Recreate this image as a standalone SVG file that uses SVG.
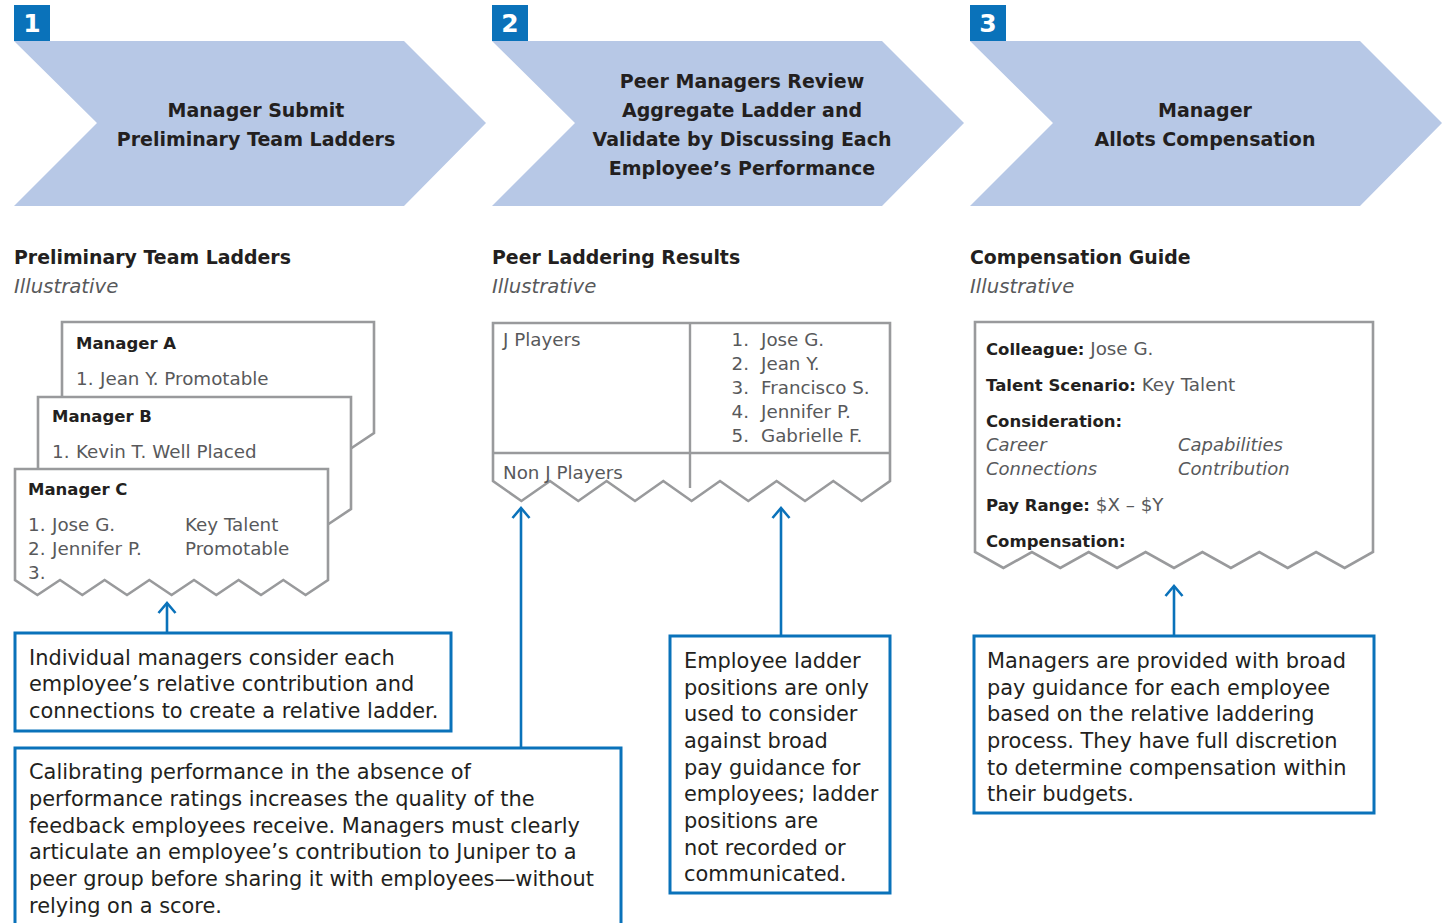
<svg xmlns="http://www.w3.org/2000/svg" width="1447" height="923" viewBox="0 0 1447 923">
<style>
.chev{fill:#B7C8E6}
.badge{fill:#0A72BA}
.bnum{font-family:"DejaVu Sans",sans-serif;font-weight:bold;font-size:25px;fill:#fff;text-anchor:middle}
.ct{font-family:"DejaVu Sans",sans-serif;font-weight:bold;font-size:19px;fill:#231F20;text-anchor:middle}
.h{font-family:"DejaVu Sans",sans-serif;font-weight:bold;font-size:18.9px;fill:#231F20}
.il{font-family:"DejaVu Sans",sans-serif;font-style:italic;font-size:19.7px;fill:#58595B}
.card{fill:#fff;stroke:#999A9C;stroke-width:2.6;stroke-linejoin:miter}
.line{stroke:#999A9C;stroke-width:2.4;fill:none}
.cb{font-family:"DejaVu Sans",sans-serif;font-weight:bold;font-size:16.5px;fill:#231F20}
.cr{font-family:"DejaVu Sans",sans-serif;font-size:18.3px;fill:#58595B}
.ci{font-family:"DejaVu Sans",sans-serif;font-style:italic;font-size:18px;fill:#58595B}
.box{fill:#fff;stroke:#0A72BA;stroke-width:3}
.bt{font-family:"DejaVu Sans",sans-serif;font-size:20.9px;fill:#231F20}
.conn{stroke:#0A72BA;stroke-width:2.6;fill:none}
</style>
<defs>
<marker id="arr" markerUnits="userSpaceOnUse" markerWidth="24" markerHeight="24" viewBox="0 0 24 24" refX="12" refY="12" orient="auto">
<path d="M2,3.5 L12,12 L2,20.5" fill="none" stroke="#0A72BA" stroke-width="2.6"/>
</marker>
</defs>
<rect width="1447" height="923" fill="#fff"/>

<g id="step1">
<polygon class="chev" points="14,41 404,41 486,123 404,206 14,206 97,123"/>
<rect class="badge" x="14" y="5" width="36" height="36"/>
<text class="bnum" x="32" y="32">1</text>
<text class="ct" x="256" y="117">Manager Submit</text>
<text class="ct" x="256" y="146">Preliminary Team Ladders</text>
</g>
<g id="step2">
<polygon class="chev" points="492,41 882,41 964,123 882,206 492,206 575,123"/>
<rect class="badge" x="492" y="5" width="36" height="36"/>
<text class="bnum" x="510" y="32">2</text>
<text class="ct" x="742" y="88">Peer Managers Review</text>
<text class="ct" x="742" y="117">Aggregate Ladder and</text>
<text class="ct" x="742" y="146">Validate by Discussing Each</text>
<text class="ct" x="742" y="175">Employee’s Performance</text>
</g>
<g id="step3">
<polygon class="chev" points="970,41 1360,41 1442,123 1360,206 970,206 1053,123"/>
<rect class="badge" x="970" y="5" width="36" height="36"/>
<text class="bnum" x="988" y="32">3</text>
<text class="ct" x="1205" y="117">Manager</text>
<text class="ct" x="1205" y="146">Allots Compensation</text>
</g>

<g id="heading1">
<text class="h" x="14" y="264">Preliminary Team Ladders</text>
<text class="il" x="14" y="293">Illustrative</text>
</g>
<g id="heading2">
<text class="h" x="492" y="264">Peer Laddering Results</text>
<text class="il" x="492" y="293">Illustrative</text>
</g>
<g id="heading3">
<text class="h" x="970" y="264">Compensation Guide</text>
<text class="il" x="970" y="293">Illustrative</text>
</g>

<g id="managerA">
<path class="card" d="M62,322 H374 V433 L351.6,448 L329.3,433 L307,448 L284.6,433 L262.3,448 L240,433 L217.6,448 L195.3,433 L173,448 L150.6,433 L128.3,448 L106,433 L84.3,448 L62,433 Z"/>
<text class="cb" x="76" y="349">Manager A</text>
<text class="cr" x="76" y="385">1.</text>
<text class="cr" x="100" y="385">Jean Y. Promotable</text>
</g>
<g id="managerB">
<path class="card" d="M38,397 H351 V509 L328.6,524 L306.3,509 L284,524 L261.6,509 L239.3,524 L217,509 L194.6,524 L172.3,509 L150,524 L127.6,509 L105.3,524 L83,509 L60.4,524 L38,509 Z"/>
<text class="cb" x="52" y="422">Manager B</text>
<text class="cr" x="52" y="458">1.</text>
<text class="cr" x="76" y="458">Kevin T. Well Placed</text>
</g>
<g id="managerC">
<path class="card" d="M15,469 H328 V580 L305.6,595 L283.3,580 L261,595 L238.6,580 L216.3,595 L194,580 L171.6,595 L149.3,580 L127,595 L104.6,580 L82.3,595 L60,580 L37.4,595 L15,580 Z"/>
<text class="cb" x="28" y="495">Manager C</text>
<text class="cr" x="28" y="531">1.</text>
<text class="cr" x="52" y="531">Jose G.</text>
<text class="cr" x="185" y="531">Key Talent</text>
<text class="cr" x="28" y="555">2.</text>
<text class="cr" x="52" y="555">Jennifer P.</text>
<text class="cr" x="185" y="555">Promotable</text>
<text class="cr" x="28" y="579">3.</text>
</g>

<g id="peerTable">
<path class="card" d="M493,323 H890 V481 L861.6,501 L833.3,481 L805,501 L776.6,481 L748.3,501 L720,481 L691.6,501 L663.3,481 L635,501 L606.6,481 L578.3,501 L550,481 L521.4,501 L493,481 Z"/>
<line class="line" x1="690" y1="323" x2="690" y2="488"/>
<line class="line" x1="493" y1="453" x2="890" y2="453"/>
<text class="cr" x="503" y="346">J Players</text>
<text class="cr" x="503" y="479">Non J Players</text>
<text class="cr" x="749" y="346" text-anchor="end">1.</text>
<text class="cr" x="761" y="346">Jose G.</text>
<text class="cr" x="749" y="370" text-anchor="end">2.</text>
<text class="cr" x="761" y="370">Jean Y.</text>
<text class="cr" x="749" y="394" text-anchor="end">3.</text>
<text class="cr" x="761" y="394">Francisco S.</text>
<text class="cr" x="749" y="418" text-anchor="end">4.</text>
<text class="cr" x="761" y="418">Jennifer P.</text>
<text class="cr" x="749" y="442" text-anchor="end">5.</text>
<text class="cr" x="761" y="442">Gabrielle F.</text>
</g>

<g id="compGuide">
<path class="card" d="M975,322 H1373 V552 L1344.6,568 L1316.1,552 L1287.7,568 L1259.3,552 L1230.9,568 L1202.4,552 L1174,568 L1145.6,552 L1117.1,568 L1088.7,552 L1060.3,568 L1031.9,552 L1003.4,568 L975,552 Z"/>
<text x="986" y="355"><tspan class="cb">Colleague:</tspan><tspan class="cr"> Jose G.</tspan></text>
<text x="986" y="391"><tspan class="cb">Talent Scenario:</tspan><tspan class="cr"> Key Talent</tspan></text>
<text class="cb" x="986" y="427">Consideration:</text>
<text class="ci" x="986" y="451">Career</text>
<text class="ci" x="1178" y="451">Capabilities</text>
<text class="ci" x="986" y="475">Connections</text>
<text class="ci" x="1178" y="475">Contribution</text>
<text x="986" y="511"><tspan class="cb">Pay Range:</tspan><tspan class="cr"> $X – $Y</tspan></text>
<text class="cb" x="986" y="547">Compensation:</text>
</g>

<g id="connectors">
<line class="conn" x1="167" y1="633" x2="167" y2="603" marker-end="url(#arr)"/>
<line class="conn" x1="521" y1="748" x2="521" y2="508" marker-end="url(#arr)"/>
<line class="conn" x1="781" y1="636" x2="781" y2="508" marker-end="url(#arr)"/>
<line class="conn" x1="1174" y1="636" x2="1174" y2="586" marker-end="url(#arr)"/>
</g>

<g id="note1">
<rect class="box" x="15" y="633" width="436" height="98"/>
<text class="bt" x="29" y="665">Individual managers consider each</text>
<text class="bt" x="29" y="691">employee’s relative contribution and</text>
<text class="bt" x="29" y="718">connections to create a relative ladder.</text>
</g>
<g id="note2">
<rect class="box" x="15" y="748" width="606" height="190"/>
<text class="bt" x="29" y="779">Calibrating performance in the absence of</text>
<text class="bt" x="29" y="806">performance ratings increases the quality of the</text>
<text class="bt" x="29" y="833">feedback employees receive. Managers must clearly</text>
<text class="bt" x="29" y="859">articulate an employee’s contribution to Juniper to a</text>
<text class="bt" x="29" y="886">peer group before sharing it with employees—without</text>
<text class="bt" x="29" y="913">relying on a score.</text>
</g>
<g id="note3">
<rect class="box" x="670" y="636" width="220" height="257"/>
<text class="bt" x="684" y="668">Employee ladder</text>
<text class="bt" x="684" y="695">positions are only</text>
<text class="bt" x="684" y="721">used to consider</text>
<text class="bt" x="684" y="748">against broad</text>
<text class="bt" x="684" y="775">pay guidance for</text>
<text class="bt" x="684" y="801">employees; ladder</text>
<text class="bt" x="684" y="828">positions are</text>
<text class="bt" x="684" y="855">not recorded or</text>
<text class="bt" x="684" y="881">communicated.</text>
</g>
<g id="note4">
<rect class="box" x="974" y="636" width="400" height="177"/>
<text class="bt" x="987" y="668">Managers are provided with broad</text>
<text class="bt" x="987" y="695">pay guidance for each employee</text>
<text class="bt" x="987" y="721">based on the relative laddering</text>
<text class="bt" x="987" y="748">process. They have full discretion</text>
<text class="bt" x="987" y="775">to determine compensation within</text>
<text class="bt" x="987" y="801">their budgets.</text>
</g>
</svg>
